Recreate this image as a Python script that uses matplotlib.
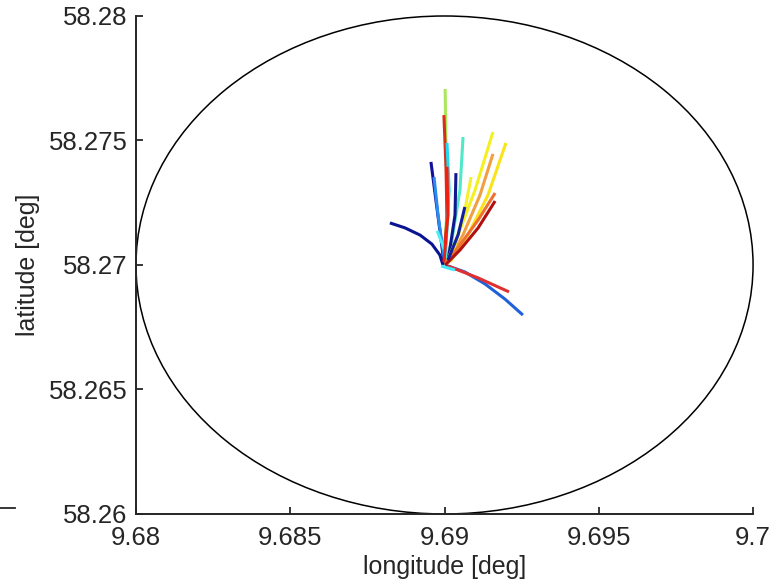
"""Drifter trajectories inside a range circle (lon/lat)."""
import matplotlib
matplotlib.use('Agg')
import matplotlib.pyplot as plt
from matplotlib.patches import Ellipse
from matplotlib.lines import Line2D

plt.rcParams['font.family'] = ['Liberation Sans', 'DejaVu Sans']

# range circle
circle_center = (9.69, 58.27)
circle_width = 0.02
circle_height = 0.02

# trajectories: lon / lat points, one list per track
track_lon = [
    [9.69002, 9.69005, 9.69008, 9.68998],                       # light green
    [9.68998, 9.69005, 9.69008, 9.68995],                       # red, long up
    [9.69008, 9.69015, 9.69002],                                # cyan
    [9.69060, 9.69050, 9.69024, 9.69002],                       # aquamarine
    [9.68956, 9.68972, 9.68989, 9.68998],                       # navy upper left
    [9.68966, 9.68979, 9.68995, 9.69002],                       # dodger blue
    [9.68976, 9.68992, 9.69005],                                # light cyan short
    [9.68823, 9.68872, 9.68921, 9.68959, 9.68985, 9.68995],     # dark blue left
    [9.69002, 9.69066, 9.69131, 9.69196, 9.69254],              # blue lower right
    [9.69011, 9.69109, 9.69209],                                # red lower right
    [9.68989, 9.69011, 9.69034],                                # cyan short lower
    [9.69008, 9.69011, 9.68998],                                # red middle
    [9.69037, 9.69034, 9.69011],                                # navy middle
    [9.69157, 9.69099, 9.69044, 9.69005],                       # yellow long
    [9.69199, 9.69141, 9.69076, 9.69018],                       # yellow second
    [9.69157, 9.69115, 9.69060, 9.69011],                       # orange
    [9.69086, 9.69066, 9.69034, 9.69008],                       # yellow short
    [9.69164, 9.69109, 9.69050, 9.69002],                       # orange-red
    [9.69164, 9.69109, 9.69050, 9.69002],                       # dark red
    [9.69066, 9.69044, 9.69011],                                # navy short
]
track_lat = [
    [58.27707, 58.27462, 58.27221, 58.27012],
    [58.27602, 58.27382, 58.27181, 58.27000],
    [58.27490, 58.27301, 58.27012],
    [58.27514, 58.27301, 58.27100, 58.27000],
    [58.27414, 58.27261, 58.27100, 58.27008],
    [58.27353, 58.27201, 58.27060, 58.27004],
    [58.27137, 58.27088, 58.27040],
    [58.27169, 58.27149, 58.27120, 58.27084, 58.27040, 58.27000],
    [58.27000, 58.26972, 58.26924, 58.26863, 58.26799],
    [58.26996, 58.26948, 58.26892],
    [58.26996, 58.26988, 58.26980],
    [58.27394, 58.27201, 58.27012],
    [58.27369, 58.27201, 58.27012],
    [58.27534, 58.27301, 58.27121, 58.27004],
    [58.27490, 58.27281, 58.27121, 58.27012],
    [58.27446, 58.27281, 58.27121, 58.27008],
    [58.27353, 58.27221, 58.27080, 58.27004],
    [58.27289, 58.27181, 58.27080, 58.27004],
    [58.27257, 58.27149, 58.27060, 58.27000],
    [58.27233, 58.27121, 58.27020],
]
track_colors = [
    '#a8e85a', '#d83018', '#20d8f0', '#50e8c8', '#10109a',
    '#2a8cf0', '#50f0f0', '#0a1490', '#2060d8', '#e03030',
    '#40e8f8', '#f02010', '#101890', '#f4f020', '#f8e418',
    '#f0a040', '#f4f030', '#f07030', '#b01010', '#1020a0',
]

xticks = [9.68, 9.685, 9.69, 9.695, 9.7]
xtick_labels = ['9.68', '9.685', '9.69', '9.695', '9.7']
yticks = [58.26, 58.265, 58.27, 58.275, 58.28]
ytick_labels = ['58.26', '58.265', '58.27', '58.275', '58.28']

fig = plt.figure(figsize=(7.7, 5.86), dpi=100)
ax = fig.add_axes([0.1766, 0.1229, 0.8014, 0.8498])

ax.add_patch(Ellipse(circle_center, circle_width, circle_height, fill=False,
                     edgecolor='black', lw=1.1, clip_on=False))
for lo, la, c in zip(track_lon, track_lat, track_colors):
    ax.plot(lo, la, color=c, lw=2.2, solid_capstyle='butt', solid_joinstyle='round')

ax.set_xlim(9.68, 9.70)
ax.set_ylim(58.26, 58.28)
ax.set_xticks(xticks)
ax.set_xticklabels(xtick_labels)
ax.set_yticks(yticks)
ax.set_yticklabels(ytick_labels)
ax.tick_params(direction='in', length=5, width=1.3, labelsize=18.5, colors='#262626')
ax.tick_params(axis='x', pad=9)
ax.tick_params(axis='y', pad=6)
ax.spines['top'].set_visible(False)
ax.spines['right'].set_visible(False)
for s in ('left', 'bottom'):
    ax.spines[s].set_linewidth(1.4)
    ax.spines[s].set_color('#262626')
ax.set_xlabel('longitude [deg]', fontsize=18, color='#262626', labelpad=3)
ax.set_ylabel('latitude [deg]', fontsize=18, color='#262626', labelpad=6)

# stray mark at the left edge of the original figure
fig.add_artist(Line2D([0.0, 15 / 770], [1 - 508 / 586] * 2, color='#262626', lw=1.3))

fig.savefig('out.png', dpi=100)
